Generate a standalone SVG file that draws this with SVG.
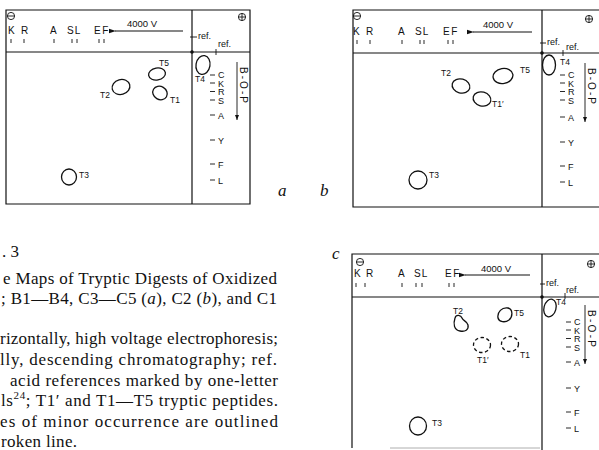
<svg xmlns="http://www.w3.org/2000/svg" width="599" height="450" viewBox="0 0 599 450">
<defs>
<style>
.ln{stroke:#111;stroke-width:1.2;fill:none}
.tk{stroke:#111;stroke-width:0.9;fill:none}
.sp{stroke:#111;stroke-width:1.3;fill:none}
.ds{stroke-dasharray:3.5 2.5}
.lb{font-family:"Liberation Sans",Arial,sans-serif;font-size:10px;fill:#111}
.aa{font-size:9px}
.sm{font-size:8.5px}
.cap{font-family:"Liberation Serif","Times New Roman",serif;font-size:17px;fill:#111}
.it{font-family:"Liberation Serif","Times New Roman",serif;font-style:italic;font-size:17px;fill:#111}
</style>
<marker id="ah" markerWidth="8" markerHeight="6" refX="1" refY="3" orient="auto-start-reverse" markerUnits="userSpaceOnUse">
<path d="M0,3 L7,0.8 L7,5.2 Z" fill="#111"/>
</marker>
<marker id="ad" markerWidth="6" markerHeight="6" refX="5" refY="3" orient="auto" markerUnits="userSpaceOnUse">
<path d="M0,1 L5,3 L0,5 Z" fill="#111"/>
</marker>
<g id="minus"><circle r="3.6" class="tk"/><path d="M-3.6,0 H3.6" class="tk"/></g>
<g id="plus"><circle r="3.6" class="tk"/><path d="M-3.6,0 H3.6 M0,-3.6 V3.6" class="tk"/></g>
</defs>

<!-- Panel a -->
<g id="panel-a">
<path class="ln" d="M6,10 H250 V204 H6 Z M6,52 H250 M192,10 V204"/>
<circle cx="192" cy="52" r="1.8" fill="#111"/>
<use href="#minus" x="11" y="16"/>
<use href="#plus" x="242" y="17"/>
<g class="lb">
<text x="8" y="34">K</text><text x="21" y="34">R</text><text x="50" y="34">A</text>
<text x="67" y="34" letter-spacing="1">SL</text><text x="94" y="34" letter-spacing="1.5">EF</text>
<text x="127" y="27" font-size="9.5">4000 V</text>
<text x="198" y="39" font-size="9">ref.</text><text x="218" y="47" font-size="9">ref.</text>
</g>
<path class="tk" d="M11,39 V43 M24,39 V43 M54,39 V43 M72,39 V43 M77,39 V43 M99,39 V43 M104,39 V43 M190,37 H197 M216,49 V55"/>
<path class="ln" d="M183,31 H115" marker-end="url(#ah)"/>
</g>

<g id="ref-scale-a">
<g class="lb aa">
<text x="218" y="78">C</text><text x="218" y="86.5">K</text><text x="218" y="95">R</text><text x="218" y="103.5">S</text>
<text x="218" y="119">A</text><text x="218" y="144">Y</text><text x="218" y="168">F</text><text x="218" y="184">L</text>
<text transform="translate(240,67) rotate(90)" font-size="10" textLength="36" lengthAdjust="spacing">B-O-P</text>
</g>
<path class="tk" d="M210,75 H215 M210,83 H215 M210,91.5 H215 M210,100 H215 M210,115 H215 M210,140 H215 M210,164 H215 M210,180 H215"/>
<path class="tk" d="M237,62 V120" marker-end="url(#ad)"/>
</g>

<g id="a-T4"><ellipse class="sp" cx="203" cy="65" rx="7" ry="9.5" transform="rotate(10 203 65)"/><text class="lb sm" x="195" y="82">T4</text></g>
<g id="a-T5"><ellipse class="sp" cx="157" cy="74" rx="8.5" ry="6" transform="rotate(-10 157 74)"/><text class="lb sm" x="159" y="66">T5</text></g>
<g id="a-T2"><ellipse class="sp" cx="121" cy="87" rx="9" ry="7.5" transform="rotate(-15 121 87)"/><text class="lb sm" x="100" y="98">T2</text></g>
<g id="a-T1"><ellipse class="sp" cx="160" cy="93" rx="7.5" ry="6.5" transform="rotate(30 160 93)"/><text class="lb sm" x="170" y="103">T1</text></g>
<g id="a-T3"><ellipse class="sp" cx="69" cy="177" rx="7.5" ry="8"/><text class="lb sm" x="79" y="178">T3</text></g>
<text class="it" x="278" y="196">a</text>

<!-- Panel b -->
<g id="panel-b">
<path class="ln" d="M600,10 H353 V207 H600 M353,53 H600 M542,10 V207"/>
<circle cx="542" cy="53" r="1.8" fill="#111"/>
<use href="#minus" x="357" y="16"/>
<use href="#plus" x="589" y="19"/>
<g class="lb">
<text x="353" y="35">K</text><text x="366" y="35">R</text><text x="398" y="35">A</text>
<text x="415" y="35" letter-spacing="1">SL</text><text x="443" y="35" letter-spacing="1.5">EF</text>
<text x="483" y="28" font-size="9.5">4000 V</text>
<text x="547" y="45" font-size="9">ref.</text><text x="566" y="50" font-size="9">ref.</text>
</g>
<path class="tk" d="M357,40 V44 M370,40 V44 M402,40 V44 M420,40 V44 M424,40 V44 M448,40 V44 M453,40 V44 M540,43 H546 M563,50 V56"/>
<path class="ln" d="M532,32 H473" marker-end="url(#ah)"/>
</g>

<g id="ref-scale-b">
<g class="lb aa">
<text x="568" y="78">C</text><text x="568" y="86.5">K</text><text x="568" y="95">R</text><text x="568" y="103.5">S</text>
<text x="568" y="121">A</text><text x="568" y="146">Y</text><text x="568" y="170">F</text><text x="568" y="186">L</text>
<text transform="translate(588,68) rotate(90)" font-size="10" textLength="36" lengthAdjust="spacing">B-O-P</text>
</g>
<path class="tk" d="M560,75 H565 M560,83 H565 M560,91.5 H565 M560,100 H565 M560,117 H565 M560,142 H565 M560,166 H565 M560,182 H565"/>
<path class="tk" d="M585,63 V122" marker-end="url(#ad)"/>
</g>

<g id="b-T4"><ellipse class="sp" cx="549" cy="65" rx="6.5" ry="10"/><text class="lb sm" x="560" y="65">T4</text></g>
<g id="b-T2"><ellipse class="sp" cx="461" cy="86" rx="9" ry="7" transform="rotate(15 461 86)"/><text class="lb sm" x="441" y="76">T2</text></g>
<g id="b-T5"><ellipse class="sp" cx="503" cy="76" rx="10" ry="7.5" transform="rotate(-10 503 76)"/><text class="lb sm" x="520" y="73">T5</text></g>
<g id="b-T1p"><ellipse class="sp" cx="482" cy="99" rx="9" ry="7" transform="rotate(15 482 99)"/><text class="lb sm" x="492" y="107">T1′</text></g>
<g id="b-T3"><ellipse class="sp" cx="418" cy="180" rx="9" ry="9"/><text class="lb sm" x="429" y="178">T3</text></g>
<text class="it" x="320" y="196">b</text>

<!-- Panel c -->
<g id="panel-c">
<path class="ln" d="M600,254 H352 V448 M352,297 H600 M542,254 V450"/>
<path d="M390,448 H540" stroke="#999" stroke-width="0.8"/>
<circle cx="542" cy="297" r="1.8" fill="#111"/>
<use href="#minus" x="360" y="262"/>
<use href="#plus" x="591" y="264"/>
<g class="lb">
<text x="354" y="277">K</text><text x="366" y="277">R</text><text x="398" y="277">A</text>
<text x="414" y="277" letter-spacing="1">SL</text><text x="445" y="277" letter-spacing="1.5">EF</text>
<text x="481" y="272" font-size="9.5">4000 V</text>
<text x="546" y="286" font-size="9">ref.</text><text x="566" y="293" font-size="9">ref.</text>
</g>
<path class="tk" d="M356,283 V287 M365,283 V287 M402,283 V287 M416,283 V287 M422,283 V287 M449,283 V287 M454,283 V287 M540,284 H545 M565,293 V299"/>
<path class="ln" d="M530,275 H465" marker-end="url(#ah)"/>
</g>

<g id="ref-scale-c">
<g class="lb aa">
<text x="574" y="325">C</text><text x="574" y="333.5">K</text><text x="574" y="342">R</text><text x="574" y="350.5">S</text>
<text x="574" y="366">A</text><text x="574" y="392">Y</text><text x="574" y="416">F</text><text x="574" y="432">L</text>
<text transform="translate(588,310) rotate(90)" font-size="10" textLength="37" lengthAdjust="spacing">B-O-P</text>
</g>
<path class="tk" d="M566,322 H571 M566,330 H571 M566,338.5 H571 M566,347 H571 M566,362 H571 M566,388 H571 M566,412 H571 M566,428 H571"/>
<path class="tk" d="M585,305 V364" marker-end="url(#ad)"/>
</g>

<g id="c-T4"><ellipse class="sp" cx="550" cy="308" rx="6" ry="9" transform="rotate(15 550 308)"/><text class="lb sm" x="556" y="305">T4</text></g>
<g id="c-T2"><path class="sp" d="M455,318 C453,324 454,330 460,331 C465,332 469,330 468,325 C467,321 463,321 462,318 C461,315 456,314 455,318 Z"/><text class="lb sm" x="453" y="314">T2</text></g>
<g id="c-T5"><path class="sp" d="M498,318 C497,312 502,307 508,308 C513,309 513,317 509,320 C505,323 499,322 498,318 Z"/><text class="lb sm" x="514" y="316">T5</text></g>
<g id="c-T1p"><ellipse class="sp ds" cx="482" cy="345" rx="8.5" ry="7.5"/><text class="lb sm" x="477" y="363">T1′</text></g>
<g id="c-T1"><ellipse class="sp ds" cx="510" cy="344" rx="8.5" ry="7.5"/><text class="lb sm" x="520" y="358">T1</text></g>
<g id="c-T3"><ellipse class="sp" cx="418" cy="426" rx="8.5" ry="9"/><text class="lb sm" x="432" y="426">T3</text></g>
<text class="it" x="332" y="259">c</text>

<!-- Caption -->
<g id="caption">
<text class="cap" x="2" y="257">. 3</text>
<text class="cap" x="3" y="284" textLength="274" lengthAdjust="spacing">e Maps of Tryptic Digests of Oxidized</text>
<text class="cap" x="1" y="304" textLength="276" lengthAdjust="spacing">; B1—B4, C3—C5 (<tspan font-style="italic">a</tspan>), C2 (<tspan font-style="italic">b</tspan>), and C1</text>
<text class="cap" x="0" y="344" textLength="278" lengthAdjust="spacing">rizontally, high voltage electrophoresis;</text>
<text class="cap" x="0" y="365" textLength="277" lengthAdjust="spacing">lly, descending chromatography; ref.</text>
<text class="cap" x="10" y="386" textLength="268" lengthAdjust="spacing">acid references marked by one-letter</text>
<text class="cap" x="1" y="406" textLength="277" lengthAdjust="spacing">ls<tspan font-size="11" dy="-7">24</tspan><tspan dy="7">; T1′ and T1—T5 tryptic peptides.</tspan></text>
<text class="cap" x="0" y="427" textLength="278" lengthAdjust="spacing">es of minor occurrence are outlined</text>
<text class="cap" x="1" y="447" textLength="76" lengthAdjust="spacing">roken line.</text>
</g>
</svg>
